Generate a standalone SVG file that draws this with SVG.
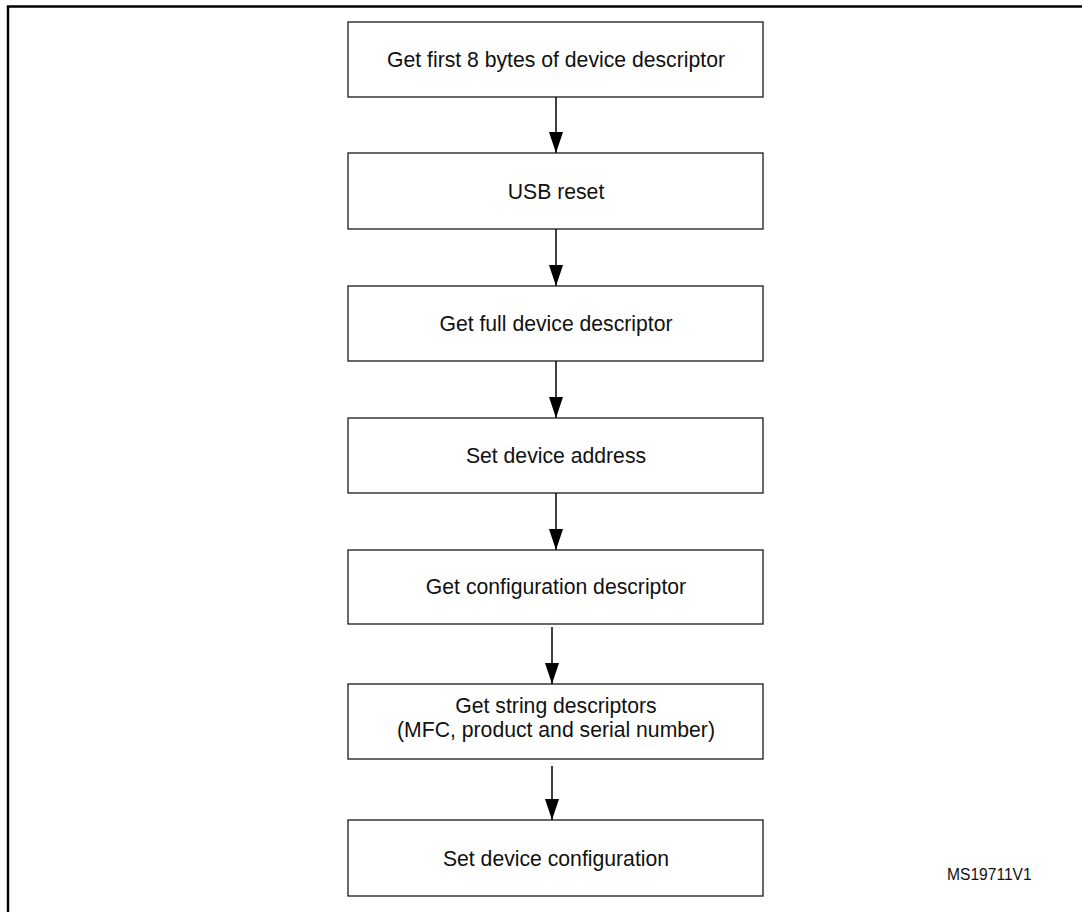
<svg xmlns="http://www.w3.org/2000/svg" width="1082" height="912" viewBox="0 0 1082 912">
  <defs>
    <style>
      .box { fill: #ffffff; stroke: #1a1a1a; stroke-width: 1.3; }
      .lbl { font-family: "Liberation Sans", Arial, sans-serif; font-size: 21.2px; fill: #111111; text-anchor: middle; }
      .conn { stroke: #000000; stroke-width: 1.5; fill: none; }
      .note { font-family: "Liberation Sans", Arial, sans-serif; font-size: 15.6px; fill: #111111; }
    </style>
    <marker id="arrow" markerWidth="21" markerHeight="14" refX="21" refY="7" orient="auto" markerUnits="userSpaceOnUse" viewBox="0 0 21 14">
      <path d="M0,0 L21,7 L0,14 Z" fill="#000000"/>
    </marker>
  </defs>
  <rect x="0" y="0" width="1082" height="912" fill="#ffffff"/>
  <path d="M8,912 V6.5 H1082" fill="none" stroke="#000000" stroke-width="2.4"/>

  <g id="connectors">
    <line class="conn" x1="556" y1="97" x2="556" y2="153" marker-end="url(#arrow)"/>
    <line class="conn" x1="556" y1="229" x2="556" y2="286" marker-end="url(#arrow)"/>
    <line class="conn" x1="556" y1="361" x2="556" y2="418" marker-end="url(#arrow)"/>
    <line class="conn" x1="556" y1="493" x2="556" y2="550" marker-end="url(#arrow)"/>
    <line class="conn" x1="552" y1="627" x2="552" y2="684" marker-end="url(#arrow)"/>
    <line class="conn" x1="552" y1="766" x2="552" y2="820" marker-end="url(#arrow)"/>
  </g>

  <g id="node1">
    <rect class="box" x="348" y="22" width="415" height="75"/>
    <text class="lbl" x="556" y="67">Get first 8 bytes of device descriptor</text>
  </g>
  <g id="node2">
    <rect class="box" x="348" y="153" width="415" height="76"/>
    <text class="lbl" x="556" y="199">USB reset</text>
  </g>
  <g id="node3">
    <rect class="box" x="348" y="286" width="415" height="75"/>
    <text class="lbl" x="556" y="331">Get full device descriptor</text>
  </g>
  <g id="node4">
    <rect class="box" x="348" y="418" width="415" height="75"/>
    <text class="lbl" x="556" y="463">Set device address</text>
  </g>
  <g id="node5">
    <rect class="box" x="348" y="550" width="415" height="74"/>
    <text class="lbl" x="556" y="594">Get configuration descriptor</text>
  </g>
  <g id="node6">
    <rect class="box" x="348" y="684" width="415" height="75"/>
    <text class="lbl" x="556" y="713">Get string descriptors</text>
    <text class="lbl" x="556" y="737">(MFC, product and serial number)</text>
  </g>
  <g id="node7">
    <rect class="box" x="348" y="820" width="415" height="76"/>
    <text class="lbl" x="556" y="866">Set device configuration</text>
  </g>
  <text class="note" x="947" y="880">MS19711V1</text>
</svg>
